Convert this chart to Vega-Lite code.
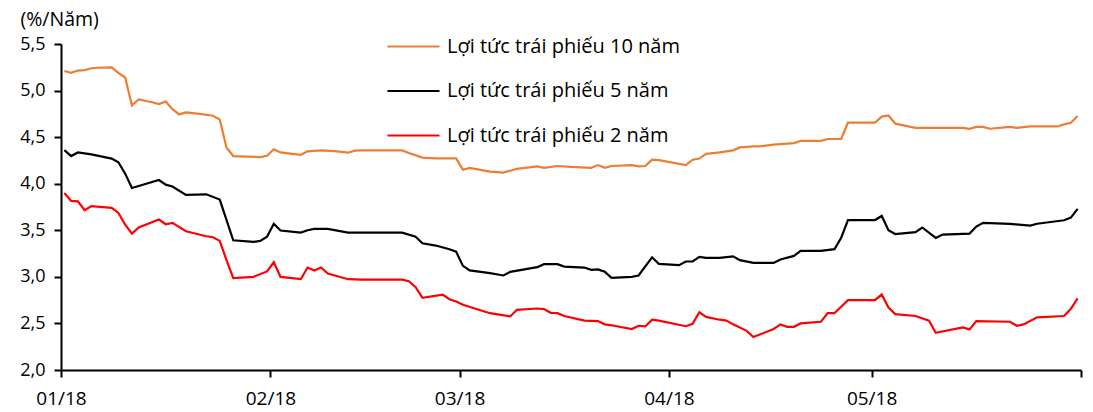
{
  "$schema": "https://vega.github.io/schema/vega-lite/v6.json",
  "width": 1020,
  "height": 326,
  "autosize": "none",
  "padding": {"left": 61, "top": 44, "right": 12, "bottom": 42},
  "background": "white",
  "config": {
    "view": {"stroke": null},
    "font": "Open Sans",
    "axis": {"grid": false, "domainColor": "#000000", "tickColor": "#000000", "domainWidth": 2, "tickWidth": 2, "labelColor": "#000000", "labelFont": "Open Sans", "labelFontSize": 18, "titleFont": "Open Sans", "titleFontSize": 19.5, "titleFontWeight": "normal", "titleColor": "#000000"}
  },
  "data": {"values": [
    {"date": "2018-01-01", "s": "10", "v": 5.21},
    {"date": "2018-01-02", "s": "10", "v": 5.19},
    {"date": "2018-01-03", "s": "10", "v": 5.215},
    {"date": "2018-01-04", "s": "10", "v": 5.22},
    {"date": "2018-01-05", "s": "10", "v": 5.24},
    {"date": "2018-01-06", "s": "10", "v": 5.245},
    {"date": "2018-01-08", "s": "10", "v": 5.25},
    {"date": "2018-01-09", "s": "10", "v": 5.19},
    {"date": "2018-01-10", "s": "10", "v": 5.14},
    {"date": "2018-01-11", "s": "10", "v": 4.84},
    {"date": "2018-01-12", "s": "10", "v": 4.905},
    {"date": "2018-01-14", "s": "10", "v": 4.875},
    {"date": "2018-01-15", "s": "10", "v": 4.855},
    {"date": "2018-01-16", "s": "10", "v": 4.883},
    {"date": "2018-01-17", "s": "10", "v": 4.8},
    {"date": "2018-01-18", "s": "10", "v": 4.744},
    {"date": "2018-01-19", "s": "10", "v": 4.765},
    {"date": "2018-01-21", "s": "10", "v": 4.75},
    {"date": "2018-01-23", "s": "10", "v": 4.73},
    {"date": "2018-01-24", "s": "10", "v": 4.69},
    {"date": "2018-01-25", "s": "10", "v": 4.39},
    {"date": "2018-01-26", "s": "10", "v": 4.297},
    {"date": "2018-01-28", "s": "10", "v": 4.29},
    {"date": "2018-01-30", "s": "10", "v": 4.286},
    {"date": "2018-01-31", "s": "10", "v": 4.3},
    {"date": "2018-02-01", "s": "10", "v": 4.37},
    {"date": "2018-02-02", "s": "10", "v": 4.336},
    {"date": "2018-02-04", "s": "10", "v": 4.318},
    {"date": "2018-02-05", "s": "10", "v": 4.31},
    {"date": "2018-02-06", "s": "10", "v": 4.347},
    {"date": "2018-02-08", "s": "10", "v": 4.358},
    {"date": "2018-02-10", "s": "10", "v": 4.35},
    {"date": "2018-02-12", "s": "10", "v": 4.333},
    {"date": "2018-02-13", "s": "10", "v": 4.355},
    {"date": "2018-02-14", "s": "10", "v": 4.358},
    {"date": "2018-02-20", "s": "10", "v": 4.358},
    {"date": "2018-02-21", "s": "10", "v": 4.33},
    {"date": "2018-02-23", "s": "10", "v": 4.28},
    {"date": "2018-02-25", "s": "10", "v": 4.272},
    {"date": "2018-02-28", "s": "10", "v": 4.272},
    {"date": "2018-03-01", "s": "10", "v": 4.15},
    {"date": "2018-03-02", "s": "10", "v": 4.17},
    {"date": "2018-03-05", "s": "10", "v": 4.13},
    {"date": "2018-03-07", "s": "10", "v": 4.12},
    {"date": "2018-03-09", "s": "10", "v": 4.16},
    {"date": "2018-03-12", "s": "10", "v": 4.186},
    {"date": "2018-03-13", "s": "10", "v": 4.17},
    {"date": "2018-03-15", "s": "10", "v": 4.19},
    {"date": "2018-03-17", "s": "10", "v": 4.18},
    {"date": "2018-03-20", "s": "10", "v": 4.17},
    {"date": "2018-03-21", "s": "10", "v": 4.2},
    {"date": "2018-03-22", "s": "10", "v": 4.17},
    {"date": "2018-03-23", "s": "10", "v": 4.19},
    {"date": "2018-03-26", "s": "10", "v": 4.2},
    {"date": "2018-03-27", "s": "10", "v": 4.186},
    {"date": "2018-03-28", "s": "10", "v": 4.19},
    {"date": "2018-03-29", "s": "10", "v": 4.258},
    {"date": "2018-03-30", "s": "10", "v": 4.254},
    {"date": "2018-04-03", "s": "10", "v": 4.2},
    {"date": "2018-04-04", "s": "10", "v": 4.258},
    {"date": "2018-04-05", "s": "10", "v": 4.27},
    {"date": "2018-04-06", "s": "10", "v": 4.32},
    {"date": "2018-04-08", "s": "10", "v": 4.336},
    {"date": "2018-04-10", "s": "10", "v": 4.358},
    {"date": "2018-04-11", "s": "10", "v": 4.39},
    {"date": "2018-04-13", "s": "10", "v": 4.4},
    {"date": "2018-04-14", "s": "10", "v": 4.4},
    {"date": "2018-04-16", "s": "10", "v": 4.42},
    {"date": "2018-04-17", "s": "10", "v": 4.425},
    {"date": "2018-04-19", "s": "10", "v": 4.436},
    {"date": "2018-04-20", "s": "10", "v": 4.46},
    {"date": "2018-04-23", "s": "10", "v": 4.46},
    {"date": "2018-04-24", "s": "10", "v": 4.48},
    {"date": "2018-04-26", "s": "10", "v": 4.48},
    {"date": "2018-04-27", "s": "10", "v": 4.655},
    {"date": "2018-05-01", "s": "10", "v": 4.655},
    {"date": "2018-05-02", "s": "10", "v": 4.72},
    {"date": "2018-05-03", "s": "10", "v": 4.733},
    {"date": "2018-05-04", "s": "10", "v": 4.645},
    {"date": "2018-05-07", "s": "10", "v": 4.6},
    {"date": "2018-05-09", "s": "10", "v": 4.6},
    {"date": "2018-05-14", "s": "10", "v": 4.6},
    {"date": "2018-05-15", "s": "10", "v": 4.59},
    {"date": "2018-05-16", "s": "10", "v": 4.61},
    {"date": "2018-05-17", "s": "10", "v": 4.61},
    {"date": "2018-05-18", "s": "10", "v": 4.59},
    {"date": "2018-05-21", "s": "10", "v": 4.61},
    {"date": "2018-05-22", "s": "10", "v": 4.6},
    {"date": "2018-05-24", "s": "10", "v": 4.615},
    {"date": "2018-05-28", "s": "10", "v": 4.615},
    {"date": "2018-05-29", "s": "10", "v": 4.637},
    {"date": "2018-05-30", "s": "10", "v": 4.655},
    {"date": "2018-05-31", "s": "10", "v": 4.727},

    {"date": "2018-01-01", "s": "5", "v": 4.36},
    {"date": "2018-01-02", "s": "5", "v": 4.297},
    {"date": "2018-01-03", "s": "5", "v": 4.336},
    {"date": "2018-01-05", "s": "5", "v": 4.315},
    {"date": "2018-01-08", "s": "5", "v": 4.27},
    {"date": "2018-01-09", "s": "5", "v": 4.23},
    {"date": "2018-01-10", "s": "5", "v": 4.108},
    {"date": "2018-01-11", "s": "5", "v": 3.954},
    {"date": "2018-01-12", "s": "5", "v": 3.975},
    {"date": "2018-01-15", "s": "5", "v": 4.04},
    {"date": "2018-01-16", "s": "5", "v": 3.99},
    {"date": "2018-01-17", "s": "5", "v": 3.97},
    {"date": "2018-01-19", "s": "5", "v": 3.88},
    {"date": "2018-01-22", "s": "5", "v": 3.886},
    {"date": "2018-01-24", "s": "5", "v": 3.83},
    {"date": "2018-01-26", "s": "5", "v": 3.393},
    {"date": "2018-01-29", "s": "5", "v": 3.375},
    {"date": "2018-01-30", "s": "5", "v": 3.386},
    {"date": "2018-01-31", "s": "5", "v": 3.43},
    {"date": "2018-02-01", "s": "5", "v": 3.57},
    {"date": "2018-02-02", "s": "5", "v": 3.497},
    {"date": "2018-02-05", "s": "5", "v": 3.475},
    {"date": "2018-02-06", "s": "5", "v": 3.5},
    {"date": "2018-02-07", "s": "5", "v": 3.515},
    {"date": "2018-02-09", "s": "5", "v": 3.515},
    {"date": "2018-02-12", "s": "5", "v": 3.475},
    {"date": "2018-02-14", "s": "5", "v": 3.475},
    {"date": "2018-02-20", "s": "5", "v": 3.475},
    {"date": "2018-02-22", "s": "5", "v": 3.43},
    {"date": "2018-02-23", "s": "5", "v": 3.36},
    {"date": "2018-02-25", "s": "5", "v": 3.336},
    {"date": "2018-02-27", "s": "5", "v": 3.297},
    {"date": "2018-02-28", "s": "5", "v": 3.27},
    {"date": "2018-03-01", "s": "5", "v": 3.118},
    {"date": "2018-03-02", "s": "5", "v": 3.07},
    {"date": "2018-03-05", "s": "5", "v": 3.04},
    {"date": "2018-03-07", "s": "5", "v": 3.015},
    {"date": "2018-03-08", "s": "5", "v": 3.054},
    {"date": "2018-03-12", "s": "5", "v": 3.104},
    {"date": "2018-03-13", "s": "5", "v": 3.136},
    {"date": "2018-03-15", "s": "5", "v": 3.136},
    {"date": "2018-03-16", "s": "5", "v": 3.11},
    {"date": "2018-03-19", "s": "5", "v": 3.1},
    {"date": "2018-03-20", "s": "5", "v": 3.075},
    {"date": "2018-03-21", "s": "5", "v": 3.08},
    {"date": "2018-03-22", "s": "5", "v": 3.054},
    {"date": "2018-03-23", "s": "5", "v": 2.99},
    {"date": "2018-03-26", "s": "5", "v": 3.0},
    {"date": "2018-03-27", "s": "5", "v": 3.015},
    {"date": "2018-03-29", "s": "5", "v": 3.21},
    {"date": "2018-03-30", "s": "5", "v": 3.14},
    {"date": "2018-04-02", "s": "5", "v": 3.125},
    {"date": "2018-04-03", "s": "5", "v": 3.165},
    {"date": "2018-04-04", "s": "5", "v": 3.165},
    {"date": "2018-04-05", "s": "5", "v": 3.215},
    {"date": "2018-04-06", "s": "5", "v": 3.204},
    {"date": "2018-04-08", "s": "5", "v": 3.204},
    {"date": "2018-04-10", "s": "5", "v": 3.22},
    {"date": "2018-04-11", "s": "5", "v": 3.18},
    {"date": "2018-04-13", "s": "5", "v": 3.15},
    {"date": "2018-04-16", "s": "5", "v": 3.15},
    {"date": "2018-04-17", "s": "5", "v": 3.186},
    {"date": "2018-04-19", "s": "5", "v": 3.225},
    {"date": "2018-04-20", "s": "5", "v": 3.28},
    {"date": "2018-04-23", "s": "5", "v": 3.28},
    {"date": "2018-04-25", "s": "5", "v": 3.297},
    {"date": "2018-04-26", "s": "5", "v": 3.42},
    {"date": "2018-04-27", "s": "5", "v": 3.61},
    {"date": "2018-05-01", "s": "5", "v": 3.61},
    {"date": "2018-05-02", "s": "5", "v": 3.654},
    {"date": "2018-05-03", "s": "5", "v": 3.5},
    {"date": "2018-05-04", "s": "5", "v": 3.46},
    {"date": "2018-05-07", "s": "5", "v": 3.48},
    {"date": "2018-05-08", "s": "5", "v": 3.53},
    {"date": "2018-05-10", "s": "5", "v": 3.418},
    {"date": "2018-05-11", "s": "5", "v": 3.454},
    {"date": "2018-05-15", "s": "5", "v": 3.465},
    {"date": "2018-05-16", "s": "5", "v": 3.54},
    {"date": "2018-05-17", "s": "5", "v": 3.58},
    {"date": "2018-05-21", "s": "5", "v": 3.568},
    {"date": "2018-05-24", "s": "5", "v": 3.55},
    {"date": "2018-05-25", "s": "5", "v": 3.57},
    {"date": "2018-05-29", "s": "5", "v": 3.608},
    {"date": "2018-05-30", "s": "5", "v": 3.636},
    {"date": "2018-05-31", "s": "5", "v": 3.73},

    {"date": "2018-01-01", "s": "2", "v": 3.9},
    {"date": "2018-01-02", "s": "2", "v": 3.815},
    {"date": "2018-01-03", "s": "2", "v": 3.81},
    {"date": "2018-01-04", "s": "2", "v": 3.715},
    {"date": "2018-01-05", "s": "2", "v": 3.76},
    {"date": "2018-01-08", "s": "2", "v": 3.74},
    {"date": "2018-01-09", "s": "2", "v": 3.686},
    {"date": "2018-01-10", "s": "2", "v": 3.56},
    {"date": "2018-01-11", "s": "2", "v": 3.465},
    {"date": "2018-01-12", "s": "2", "v": 3.53},
    {"date": "2018-01-15", "s": "2", "v": 3.615},
    {"date": "2018-01-16", "s": "2", "v": 3.565},
    {"date": "2018-01-17", "s": "2", "v": 3.58},
    {"date": "2018-01-19", "s": "2", "v": 3.49},
    {"date": "2018-01-22", "s": "2", "v": 3.436},
    {"date": "2018-01-23", "s": "2", "v": 3.425},
    {"date": "2018-01-24", "s": "2", "v": 3.386},
    {"date": "2018-01-25", "s": "2", "v": 3.18},
    {"date": "2018-01-26", "s": "2", "v": 2.986},
    {"date": "2018-01-29", "s": "2", "v": 3.0},
    {"date": "2018-01-31", "s": "2", "v": 3.058},
    {"date": "2018-02-01", "s": "2", "v": 3.157},
    {"date": "2018-02-02", "s": "2", "v": 3.0},
    {"date": "2018-02-05", "s": "2", "v": 2.975},
    {"date": "2018-02-06", "s": "2", "v": 3.1},
    {"date": "2018-02-07", "s": "2", "v": 3.068},
    {"date": "2018-02-08", "s": "2", "v": 3.1},
    {"date": "2018-02-09", "s": "2", "v": 3.036},
    {"date": "2018-02-12", "s": "2", "v": 2.975},
    {"date": "2018-02-14", "s": "2", "v": 2.97},
    {"date": "2018-02-20", "s": "2", "v": 2.97},
    {"date": "2018-02-21", "s": "2", "v": 2.954},
    {"date": "2018-02-22", "s": "2", "v": 2.89},
    {"date": "2018-02-23", "s": "2", "v": 2.775},
    {"date": "2018-02-26", "s": "2", "v": 2.81},
    {"date": "2018-02-27", "s": "2", "v": 2.76},
    {"date": "2018-02-28", "s": "2", "v": 2.736},
    {"date": "2018-03-01", "s": "2", "v": 2.7},
    {"date": "2018-03-05", "s": "2", "v": 2.61},
    {"date": "2018-03-08", "s": "2", "v": 2.575},
    {"date": "2018-03-09", "s": "2", "v": 2.646},
    {"date": "2018-03-12", "s": "2", "v": 2.66},
    {"date": "2018-03-13", "s": "2", "v": 2.654},
    {"date": "2018-03-14", "s": "2", "v": 2.614},
    {"date": "2018-03-15", "s": "2", "v": 2.61},
    {"date": "2018-03-16", "s": "2", "v": 2.58},
    {"date": "2018-03-19", "s": "2", "v": 2.53},
    {"date": "2018-03-21", "s": "2", "v": 2.525},
    {"date": "2018-03-22", "s": "2", "v": 2.49},
    {"date": "2018-03-23", "s": "2", "v": 2.48},
    {"date": "2018-03-26", "s": "2", "v": 2.44},
    {"date": "2018-03-27", "s": "2", "v": 2.475},
    {"date": "2018-03-28", "s": "2", "v": 2.468},
    {"date": "2018-03-29", "s": "2", "v": 2.54},
    {"date": "2018-03-30", "s": "2", "v": 2.53},
    {"date": "2018-04-03", "s": "2", "v": 2.47},
    {"date": "2018-04-04", "s": "2", "v": 2.496},
    {"date": "2018-04-05", "s": "2", "v": 2.62},
    {"date": "2018-04-06", "s": "2", "v": 2.57},
    {"date": "2018-04-08", "s": "2", "v": 2.54},
    {"date": "2018-04-09", "s": "2", "v": 2.53},
    {"date": "2018-04-10", "s": "2", "v": 2.49},
    {"date": "2018-04-12", "s": "2", "v": 2.42},
    {"date": "2018-04-13", "s": "2", "v": 2.354},
    {"date": "2018-04-16", "s": "2", "v": 2.44},
    {"date": "2018-04-17", "s": "2", "v": 2.49},
    {"date": "2018-04-18", "s": "2", "v": 2.464},
    {"date": "2018-04-19", "s": "2", "v": 2.464},
    {"date": "2018-04-20", "s": "2", "v": 2.5},
    {"date": "2018-04-23", "s": "2", "v": 2.518},
    {"date": "2018-04-24", "s": "2", "v": 2.61},
    {"date": "2018-04-25", "s": "2", "v": 2.61},
    {"date": "2018-04-27", "s": "2", "v": 2.75},
    {"date": "2018-05-01", "s": "2", "v": 2.75},
    {"date": "2018-05-02", "s": "2", "v": 2.81},
    {"date": "2018-05-03", "s": "2", "v": 2.67},
    {"date": "2018-05-04", "s": "2", "v": 2.6},
    {"date": "2018-05-07", "s": "2", "v": 2.58},
    {"date": "2018-05-09", "s": "2", "v": 2.53},
    {"date": "2018-05-10", "s": "2", "v": 2.4},
    {"date": "2018-05-14", "s": "2", "v": 2.457},
    {"date": "2018-05-15", "s": "2", "v": 2.436},
    {"date": "2018-05-16", "s": "2", "v": 2.525},
    {"date": "2018-05-21", "s": "2", "v": 2.518},
    {"date": "2018-05-22", "s": "2", "v": 2.475},
    {"date": "2018-05-23", "s": "2", "v": 2.49},
    {"date": "2018-05-25", "s": "2", "v": 2.565},
    {"date": "2018-05-29", "s": "2", "v": 2.58},
    {"date": "2018-05-30", "s": "2", "v": 2.657},
    {"date": "2018-05-31", "s": "2", "v": 2.77}
  ]},
  "mark": {"type": "line", "strokeWidth": 2.2, "interpolate": "linear"},
  "encoding": {
    "x": {
      "field": "date",
      "type": "temporal",
      "timeUnit": "yearmonthdate",
      "bandPosition": 0.5,
      "scale": {"domain": [{"year": 2018, "month": 1, "date": 1}, {"year": 2018, "month": 6, "date": 1}]},
      "axis": {
        "title": null,
        "values": [
          {"year": 2018, "month": 1, "date": 1},
          {"year": 2018, "month": 2, "date": 1},
          {"year": 2018, "month": 3, "date": 1},
          {"year": 2018, "month": 4, "date": 1},
          {"year": 2018, "month": 5, "date": 1},
          {"year": 2018, "month": 6, "date": 1}
        ],
        "labelExpr": "month(datum.value) == 5 ? '' : timeFormat(datum.value, '%m/%y')",
        "labelFontSize": 19,
        "tickSize": 7,
        "labelPadding": 12,
        "labelFlush": false,
        "labelOverlap": false
      }
    },
    "y": {
      "field": "v",
      "type": "quantitative",
      "scale": {"domain": [2, 5.5], "nice": false, "zero": false},
      "axis": {
        "values": [2, 2.5, 3, 3.5, 4, 4.5, 5, 5.5],
        "labelExpr": "replace(format(datum.value, '.1f'), '.', ',')",
        "tickSize": 7,
        "labelPadding": 9,
        "title": "(%/Năm)",
        "titleAngle": 0,
        "titleAlign": "left",
        "titleBaseline": "middle",
        "titleX": -41,
        "titleY": -25,
        "labelFlush": false,
        "labelOverlap": false
      }
    },
    "color": {
      "field": "s",
      "type": "nominal",
      "sort": ["10", "5", "2"],
      "scale": {"domain": ["10", "5", "2"], "range": ["#ED7D31", "#000000", "#FF0000"]},
      "legend": {
        "title": null,
        "orient": "none",
        "legendX": 331,
        "legendY": -19,
        "symbolType": "M-1.3,0H1.3",
        "symbolSize": 1600,
        "symbolStrokeWidth": 2.2,
        "labelFont": "Open Sans",
        "labelFontSize": 20,
        "labelColor": "#000000",
        "labelOffset": 12,
        "labelLimit": 0,
        "rowPadding": 12.5,
        "labelExpr": "'Lợi tức trái phiếu ' + datum.label + ' năm'",
        "padding": 0
      }
    }
  }
}
